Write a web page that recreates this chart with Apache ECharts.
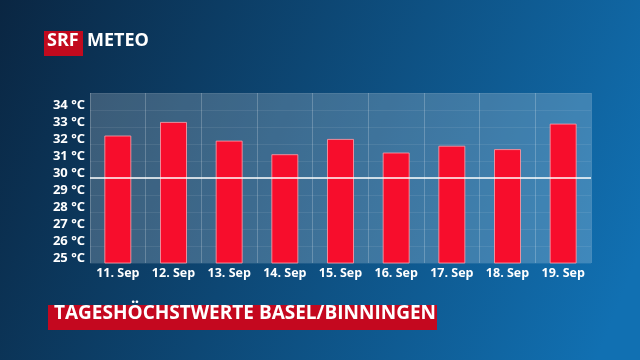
<!DOCTYPE html>
<html>
<head>
<meta charset="utf-8">
<script src="https://cdn.jsdelivr.net/npm/echarts@6/dist/echarts.min.js"></script>
<style>html,body{margin:0;padding:0;}#c{width:640px;height:360px;}</style>
</head>
<body>
<div id="c"></div>
<script>
const categories = ['11. Sep', '12. Sep', '13. Sep', '14. Sep', '15. Sep', '16. Sep', '17. Sep', '18. Sep', '19. Sep'];
const maxTemps = [32.5, 33.3, 32.2, 31.4, 32.3, 31.5, 31.9, 31.7, 33.2];
const yMin = 25, yMax = 35, yStep = 1;
const refLine = 30;
const titleText = 'TAGESHÖCHSTWERTE BASEL/BINNINGEN';

const chart = echarts.init(document.getElementById('c'));
const font = 'Open Sans';
chart.setOption({
  animation: false,
  backgroundColor: new echarts.graphic.LinearGradient(0, 0, 1, 0.7, [
    { offset: 0, color: '#0a2642' },
    { offset: 0.45, color: '#0d4774' },
    { offset: 1, color: '#1170b2' }
  ]),
  grid: {
    left: 90, right: 49, top: 93, bottom: 97,
    show: true, backgroundColor: 'rgba(255,255,255,0.2)', borderWidth: 0
  },
  xAxis: {
    type: 'category', data: categories,
    axisLine: { show: false }, axisTick: { show: false },
    axisLabel: { interval: 0, color: '#fff', fontFamily: font, fontWeight: 'bold', fontSize: 12.5, margin: 4 },
    splitLine: { show: true, interval: 0, lineStyle: { color: 'rgba(255,255,255,0.22)', width: 1 } }
  },
  yAxis: {
    type: 'value', min: yMin, max: yMax, interval: yStep,
    axisLine: { show: false }, axisTick: { show: false },
    axisLabel: {
      color: '#fff', fontFamily: font, fontWeight: 'bold', fontSize: 13, margin: 5,
      showMaxLabel: false, verticalAlign: 'bottom', lineHeight: 10,
      formatter: v => v + ' °C'
    },
    splitLine: { show: true, lineStyle: { color: 'rgba(255,255,255,0.08)', width: 1 } }
  },
  series: [
    {
      type: 'line', data: [], z: 1, silent: true,
      markLine: {
        symbol: 'none', silent: true, label: { show: false },
        lineStyle: { color: '#ffffff', width: 1.5, type: 'solid' },
        data: [{ yAxis: refLine }]
      }
    },
    {
      type: 'bar', data: maxTemps, z: 3, barWidth: 27,
      itemStyle: { color: '#f70d2c', borderColor: 'rgba(255,160,170,0.8)', borderWidth: 1 }
    }
  ],
  graphic: [
    { type: 'rect', left: 44, top: 31, shape: { width: 39, height: 25 }, style: { fill: '#c20a1e' } },
    { type: 'text', left: 47, top: 32, style: { text: 'SRF', fill: '#fff', font: 'bold 18px "Open Sans"' } },
    { type: 'text', left: 87, top: 32, style: { text: 'METEO', fill: '#fff', font: 'bold 18px "Open Sans"' } },
    { type: 'rect', left: 48, top: 305, shape: { width: 389, height: 25 }, style: { fill: '#c4081f' } },
    { type: 'text', left: 54, top: 304, style: { text: titleText, fill: '#fff', font: 'bold 19px "Open Sans"' } }
  ]
});
</script>
</body>
</html>
